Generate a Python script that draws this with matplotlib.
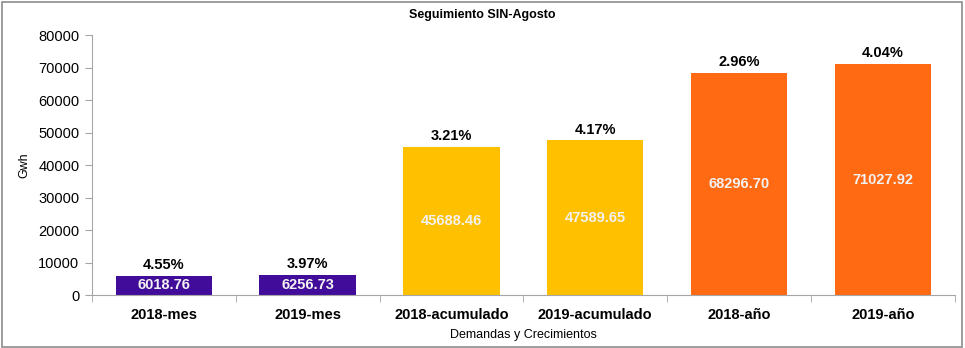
import matplotlib
matplotlib.use("Agg")
import matplotlib.pyplot as plt
from matplotlib.patches import Rectangle
import numpy as np

plt.rcParams['font.family'] = ['Liberation Sans', 'DejaVu Sans']

# data
categorias = ["2018-mes", "2019-mes", "2018-acumulado", "2019-acumulado", "2018-año", "2019-año"]
demanda = [6018.76, 6256.73, 45688.46, 47589.65, 68296.70, 71027.92]
crecimiento = ["4.55%", "3.97%", "3.21%", "4.17%", "2.96%", "4.04%"]
colores = ["#420C9A", "#420C9A", "#FFC000", "#FFC000", "#FF6A13", "#FF6A13"]

fig = plt.figure(figsize=(9.65, 3.48), dpi=100)
ax = fig.add_axes([0.0953, 0.152, 0.894, 0.747])

x = np.arange(len(categorias))
bars = ax.bar(x, demanda, width=0.67, color=colores)

for xi, v, pct in zip(x, demanda, crecimiento):
    ax.text(xi, v / 2, "%.2f" % v, ha="center", va="center", color="#F2F2F2",
            fontsize=10.5, fontweight="bold")
    ax.text(xi, v + 1200, pct, ha="center", va="bottom", color="black",
            fontsize=10.5, fontweight="bold")

ax.set_xlim(-0.5, len(categorias) - 0.5)
ax.set_ylim(0, 80000)
ax.set_yticks(np.arange(0, 80001, 10000))
ax.set_xticks(x)
ax.set_xticklabels(categorias, fontsize=10.5, fontweight="bold")
ax.set_xticks(np.arange(-0.5, len(categorias), 1), minor=True)
ax.tick_params(axis="x", which="major", length=0, pad=9)
ax.tick_params(axis="x", which="minor", length=5, color="#A6A6A6")
ax.tick_params(axis="y", labelsize=10.5, length=5, color="#A6A6A6", pad=4)

for s in ["top", "right"]:
    ax.spines[s].set_visible(False)
ax.spines["left"].set_color("#A6A6A6")
ax.spines["bottom"].set_color("#A6A6A6")

ax.set_ylabel("Gwh", fontsize=9, labelpad=6)
ax.set_xlabel("Demandas y Crecimientos", fontsize=9, labelpad=5)
fig.suptitle("Seguimiento SIN-Agosto", fontsize=9, fontweight="bold", y=0.975)

# grey frame round the whole chart
fig.patches.append(Rectangle((0.002, 0.004), 0.995, 0.99, transform=fig.transFigure,
                             fill=False, edgecolor="#8C8C8C", linewidth=1.2))

fig.savefig("out.png", dpi=100)
